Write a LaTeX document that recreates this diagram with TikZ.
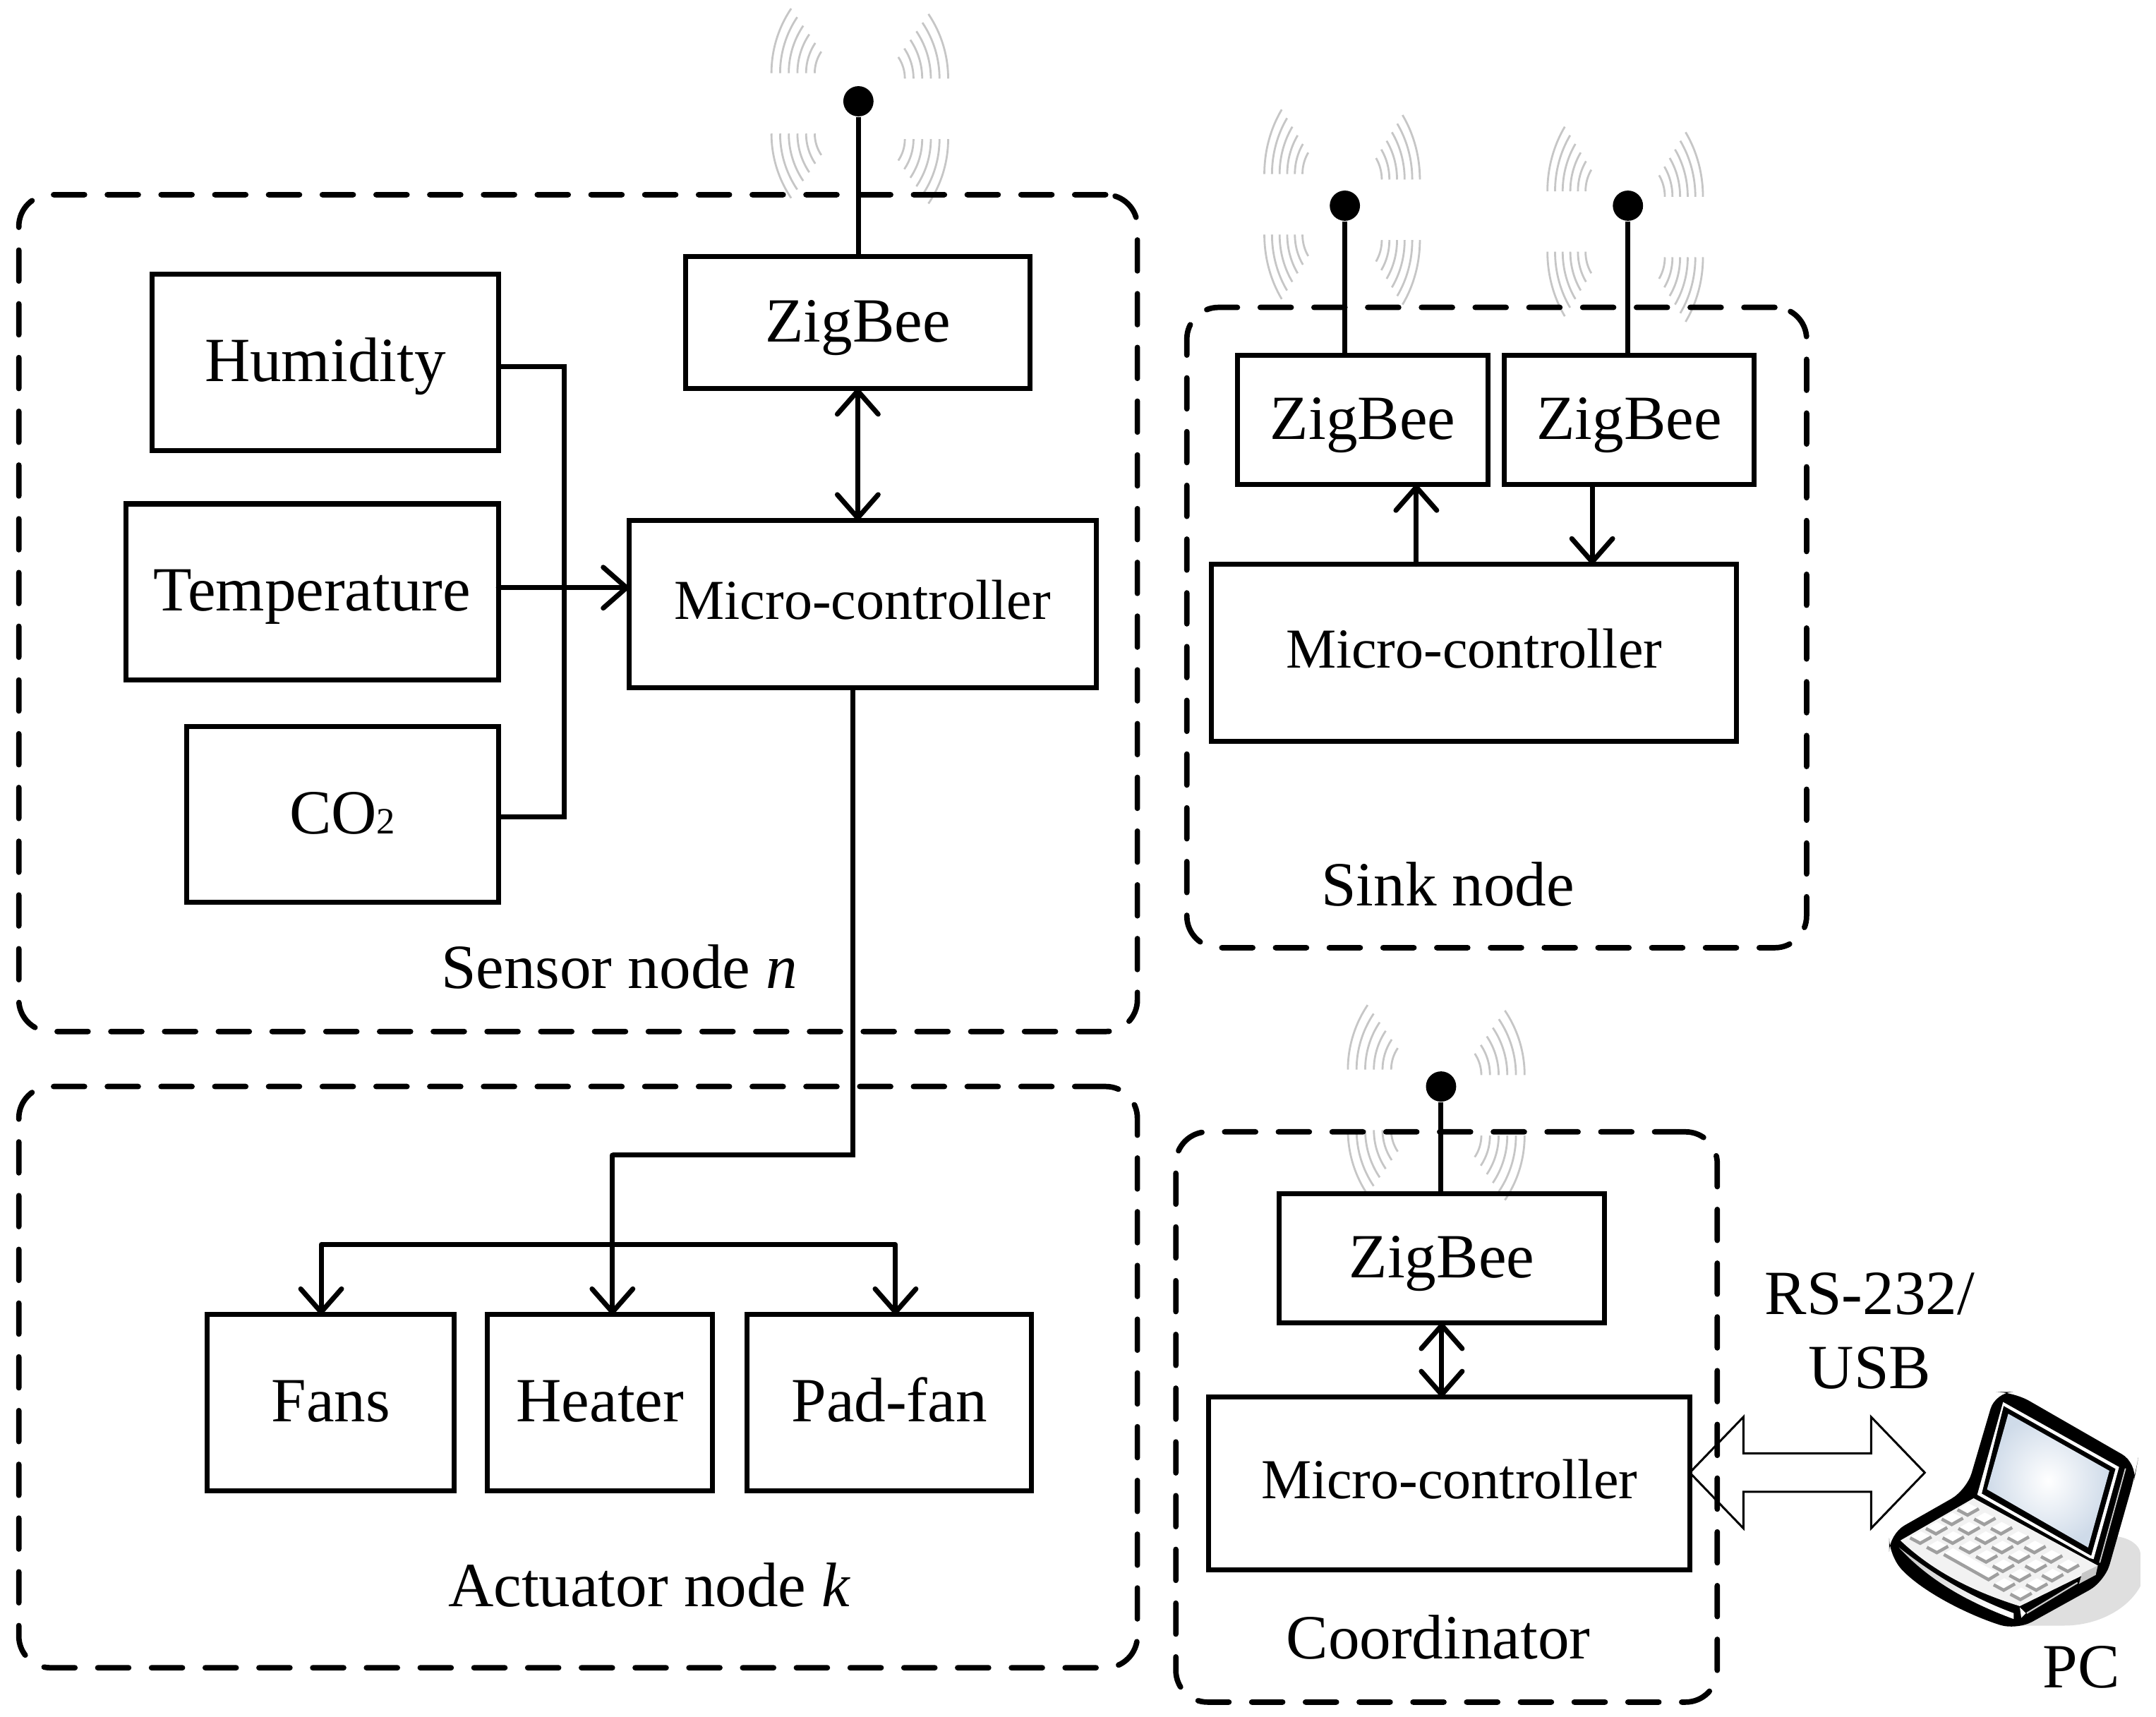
\documentclass[tikz,border=0pt]{standalone}
\usepackage{fontspec}
\setmainfont{Liberation Serif}
\usetikzlibrary{arrows.meta}

\newlength{\ux}
\setlength{\ux}{.195mm}
\definecolor{screenblue}{HTML}{CFDBE9}

\tikzset{
  blockbox/.style={draw,line width=2pt,inner sep=0pt,outer sep=0pt,
    font=\fontsize{25.4}{28}\selectfont,text height=17pt,text depth=1.5pt},
  wh/.style 2 args={minimum width=#1*\ux,minimum height=#2*\ux},
  mcubox/.style={blockbox,font=\fontsize{22.8}{26}\selectfont,text height=14pt,text depth=1.8pt},
  groupbox/.style={draw,line width=2.2pt,line cap=round,rounded corners=4.5mm,
    dash pattern=on 12.5pt off 9.2pt,inner sep=0pt,outer sep=0pt},
  caption/.style={font=\fontsize{25.4}{28}\selectfont,inner sep=0pt},
  wire/.style={line width=2pt},
  arr/.style={wire,line cap=round,-{Straight Barb[length=3.3mm,width=5.8mm,round]}},
  biarr/.style={wire,line cap=round,
    {Straight Barb[length=3.3mm,width=5.8mm,round]}-{Straight Barb[length=3.3mm,width=5.8mm,round]}},
  antdot/.style={circle,fill=black,inner sep=0pt,minimum size=22*\ux},
  wave/.style={gray!45,line width=.8pt},
  key/.style={gray!75,line width=1.3pt}
}

% four fans of arcs round an antenna tip: centre, x stretch
\newcommand{\wavesat}[2]{%
  \foreach \sx in {-1,1} \foreach \sy in {-1,1} \foreach \i in {0,...,5}
    \draw[wave,shift={(#1)},yshift=2*\sx*\ux,xscale=\sx*#2,yscale=\sy]
      ({-(32.8+6.3*\i)},-22) arc (180:214:{28+11.2*\i});
}

\begin{document}
\begin{tikzpicture}[x=\ux,y=-\ux]
  \useasboundingbox (-.7,-.7) rectangle (1568.3,1248.8);

  \node[antdot] (antS) at (624,73) {};
  \node[antdot] (antA) at (978,149) {};
  \node[antdot] (antB) at (1184,149) {};
  \node[antdot] (antC) at (1048,790) {};
  \coordinate (waveS) at (625,76.5);
  \coordinate (waveA) at (976,150);
  \coordinate (waveB) at (1182,162.5);
  \coordinate (waveC) at (1044.5,801.7);
  \wavesat{waveS}{1}
  \wavesat{waveA}{.88}
  \wavesat{waveB}{.88}
  \wavesat{waveC}{1}

  % dashed groups
  \node[groupbox,wh={814}{609}] (sensorGroup) at (420,445.5) {};
  \node[groupbox,wh={451}{466}] (sinkGroup) at (1088.5,456) {};
  \node[groupbox,wh={814}{423}] (actuatorGroup) at (420,1001.5) {};
  \node[groupbox,wh={394}{415}] (coordGroup) at (1052,1030.5) {};

  % sensor node
  \node[blockbox,wh={252}{128}] (hum) at (236,263) {Humidity};
  \node[blockbox,wh={271}{128}] (temp) at (226.5,430) {Temperature};
  \node[blockbox,wh={227}{128}] (co2) at (248.5,592) {CO{\fontsize{15}{15}\selectfont 2}};
  \node[blockbox,wh={251}{96}] (zigS) at (623.5,234) {ZigBee};
  \node[mcubox,wh={340}{122}] (mcuS) at (627,439) {Micro-controller};
  \node[caption] (sensorLabel) at (450,703) {Sensor node \textit{n}};

  % sink node
  \node[blockbox,wh={182}{94}] (zigA) at (991,305) {ZigBee};
  \node[blockbox,wh={182}{94}] (zigB) at (1185,305) {ZigBee};
  \node[mcubox,wh={382}{129}] (mcuK) at (1072,474.5) {Micro-controller};
  \node[caption] (sinkLabel) at (1053,643) {Sink node};

  % actuator node
  \node[blockbox,wh={180}{128}] (fans) at (240,1020) {Fans};
  \node[blockbox,wh={164}{128}] (heater) at (436,1020) {Heater};
  \node[blockbox,wh={207}{128}] (padfan) at (646.5,1020) {Pad-fan};
  \node[caption] (actuatorLabel) at (472,1153) {Actuator node \textit{k}};

  % coordinator
  \node[blockbox,wh={237}{94}] (zigC) at (1048.5,915) {ZigBee};
  \node[mcubox,wh={350}{126}] (mcuC) at (1054,1079) {Micro-controller};
  \node[caption] (coordLabel) at (1046,1191) {Coordinator};
  \node[caption] (linkLabelA) at (1360,941) {RS-232/};
  \node[caption] (linkLabelB) at (1360,995) {USB};
  \node[caption] (pcLabel) at (1514,1212.5) {PC};

  % antenna masts
  \draw[wire] (antS) -- (antS |- zigS.north);
  \draw[wire] (antA) -- (antA |- zigA.north);
  \draw[wire] (antB) -- (antB |- zigB.north);
  \draw[wire] (antC) -- (antC |- zigC.north);

  % sensors into the controller
  \coordinate (busTop) at (410,266);
  \coordinate (busBot) at (410,594);
  \coordinate (tempIn) at (410,427);
  \draw[wire,line join=miter] (hum.east |- busTop) -- (busTop) -- (busBot) -- (co2.east |- busBot);
  \draw[arr] (temp.east |- tempIn) -- (mcuS.west |- tempIn);
  \draw[biarr] (zigS.south) -- (zigS.south |- mcuS.north);

  % controller out to the actuators
  \coordinate (outTop) at (620,500);
  \coordinate (outBend) at (620,840);
  \coordinate (heatBend) at (445,840);
  \coordinate (splitL) at (233,905);
  \coordinate (splitR) at (651,905);
  \draw[wire] (outTop) -- (outBend) -- (heatBend);
  \draw[arr] (heatBend) -- (heatBend |- heater.north);
  \draw[wire] (splitL) -- (splitR);
  \draw[arr] (splitL) -- (splitL |- fans.north);
  \draw[arr] (splitR) -- (splitR |- padfan.north);

  % sink links
  \coordinate (upX) at (1030,380);
  \coordinate (downX) at (1158,380);
  \draw[arr] (upX |- mcuK.north) -- (upX |- zigA.south);
  \draw[arr] (downX |- zigB.south) -- (downX |- mcuK.north);

  % coordinator links
  \draw[biarr] (zigC.south) -- (zigC.south |- mcuC.north);
  \coordinate (usbLink) at (1229,1071);
  \draw[line width=.85pt,line join=miter] (usbLink) -- ++(39,-40.5) -- ++(0,26.5) -- ++(93,0)
    -- ++(0,-26.5) -- ++(39,40.5) -- ++(-39,40.5) -- ++(0,-26.5) -- ++(-93,0) -- ++(0,26.5) -- cycle;

  % laptop
  \begin{scope}[shift={(1220.5,1000)},x=.0431mm,y=-.0333mm]
    \fill[gray!25] (1380,690) .. controls (1470,670) and (1520,720) .. (1522,760)
      -- (1522,900) .. controls (1480,1000) and (1380,1068) .. (1270,1068)
      -- (1120,1068) -- cycle;
    \fill[black,rounded corners=2.5mm] (1045,72) -- (1105,72) -- (1512,375) -- (1505,425)
      -- (1405,880) -- (1115,1088) .. controls (950,1020) and (800,920) .. (695,770)
      -- (695,678) -- (950,490) -- cycle;
    \fill[white] (1070,115) -- (1452,392) -- (1368,785) -- (1355,780) -- (985,510) -- cycle;
    \fill[black] (1072,132) -- (1440,400) -- (1360,770) -- (1000,505) -- cycle;
    \shade[inner color=white,outer color=screenblue] (1087,165) -- (1420,408)
      -- (1350,735) -- (1017,487) -- cycle;
    \draw[gray!40,line width=.5pt] (1473,398) -- (1388,800);
    \fill[gray!10] (973,525) -- (1382,812) -- (1372,828) -- (1125,985)
      .. controls (990,930) and (850,850) .. (732,705) -- cycle;
    \fill[gray!45] (1330,845) -- (1382,812) -- (1375,852) -- (1320,890) -- cycle;
    \shade[left color=gray!40,right color=white,shading angle=20]
      (727,735) .. controls (830,880) and (960,970) .. (1105,1040) -- (1105,1015)
      .. controls (970,950) and (850,860) .. (727,735);
    \fill[white] (1125,990) -- (1130,1035) -- (1145,1015) -- cycle;
    \draw[gray!40,line width=.6pt] (1148,1015) -- (1315,885);
    % keys
    \foreach \row in {0,1,2,3} \foreach \col in {0,...,6} {
      \pgfmathtruncatemacro{\skipkey}{\row==3 && \col>1 && \col<5}
      \ifnum\skipkey=0
        \begin{scope}[shift={({955-52*\row+55*\col},{570+40*\row+40*\col})}]
          \fill[white] (-36,3) -- (0,-24) -- (36,0) -- (-2,26) -- cycle;
          \draw[key,line join=miter] (-35,4) -- (-2,27) -- (35,0);
        \end{scope}
      \fi
    }
    \fill[white] (875,762) -- (905,738) -- (1055,845) -- (1022,868) -- cycle;
    \draw[key,line join=miter] (875,765) -- (1022,872) -- (1055,846);
  \end{scope}
\end{tikzpicture}
\end{document}
